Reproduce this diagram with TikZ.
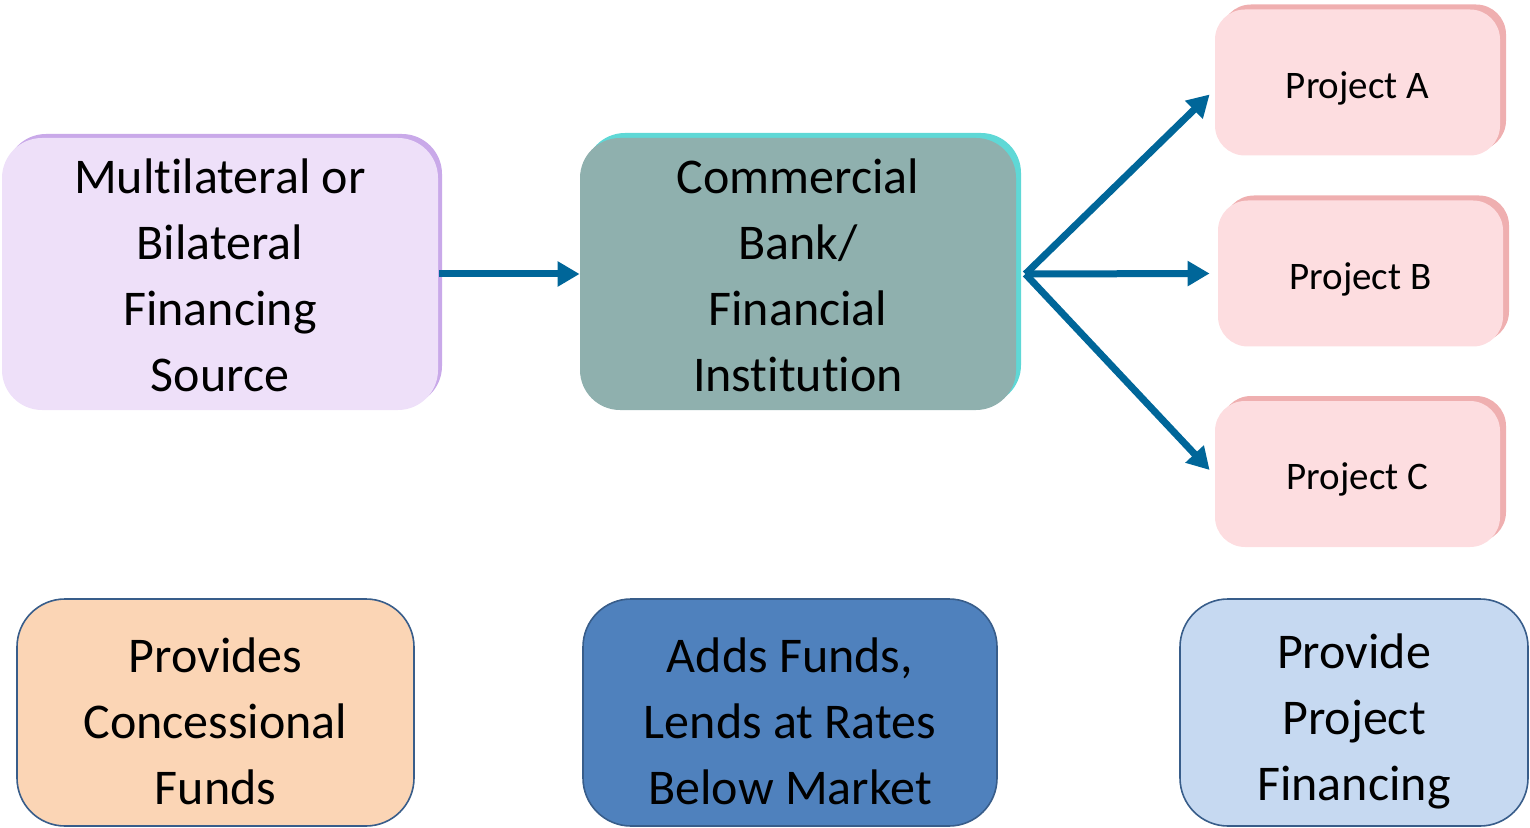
\documentclass[tikz,border=0pt]{standalone}
\usepackage{fontspec}
\setmainfont{Carlito}[Ligatures=NoCommon]
\usetikzlibrary{arrows.meta,shadows}
\definecolor{purplefill}{HTML}{EEE0F9}
\definecolor{purpleedge}{HTML}{C9A9E9}
\definecolor{tealfill}{HTML}{8FB0AE}
\definecolor{tealedge}{HTML}{5FD8D6}
\definecolor{pinkfill}{HTML}{FDDDE0}
\definecolor{pinkedge}{HTML}{EFAFB0}
\definecolor{orangefill}{HTML}{FBD5B5}
\definecolor{bluefill}{HTML}{4F81BD}
\definecolor{lightbluefill}{HTML}{C6D9F1}
\definecolor{boxborder}{HTML}{385D8A}
\definecolor{arrowblue}{HTML}{006699}
\tikzset{
  bigbox/.style={rounded corners=20pt, align=center, inner sep=0pt,
    font=\fontsize{25}{33}\selectfont, minimum width=218pt, minimum height=136pt},
  projbox/.style={rounded corners=15pt, align=center, inner sep=0pt,
    font=\fontsize{19.5}{24}\selectfont, minimum width=142.5pt, minimum height=73pt,
    fill=pinkfill, general shadow={shadow xshift=3pt, shadow yshift=2.5pt, fill=pinkedge}},
  lowbox/.style={rounded corners=24pt, align=center, inner sep=0pt,
    font=\fontsize{25}{33}\selectfont, minimum height=113.5pt,
    draw=boxborder, line width=0.8pt},
  flow/.style={draw=arrowblue, line width=3.5pt, -{Triangle[length=11pt,width=12pt]}}
}
\newcommand{\pushlow}{\rule{0pt}{26pt}}
\newcommand{\pushproj}{\rule{0pt}{19pt}}
\begin{document}
\begin{tikzpicture}[x=0.5pt,y=-0.5pt]
\useasboundingbox (0,0) rectangle (1530,828);
\node[bigbox, fill=purplefill, general shadow={shadow xshift=2pt, shadow yshift=2pt, fill=purpleedge}] (src) at (220,274)
  {\rule{0pt}{19pt}Multilateral or\\Bilateral\\Financing\\Source};
\node[bigbox, fill=tealfill, general shadow={shadow xshift=2.5pt, shadow yshift=2.5pt, fill=tealedge}] (bank) at (798,274)
  {\rule{0pt}{19pt}Commercial\\Bank/\\Financial\\Institution};
\node[projbox] (pa) at (1357.5,82.5) {\pushproj Project A};
\node[projbox] (pb) at (1360.5,273.5) {\pushproj Project B};
\node[projbox] (pc) at (1357.5,474) {\pushproj Project C};
\node[lowbox, fill=orangefill, minimum width=198.5pt] (l1) at (215.5,712.5) {\pushlow Provides\\Concessional\\Funds};
\node[lowbox, fill=bluefill, minimum width=207pt] (l2) at (790,712.5) {\pushlow Adds Funds,\\Lends at Rates\\Below Market};
\node[lowbox, fill=lightbluefill, minimum width=174pt] (l3) at (1354,712.5) {\pushlow Provide\\Project\\Financing};
\draw[flow] ([xshift=0.5pt]src.east) -- (bank.west);
\coordinate (hub) at ([xshift=4.5pt]bank.east);
\draw[flow] (hub) -- ([xshift=-2.5pt,yshift=-6pt]pa.west);
\draw[flow] (hub) -- ([xshift=-4pt]pb.west);
\draw[flow] (hub) -- ([xshift=-2.5pt,yshift=2pt]pc.west);
\end{tikzpicture}
\end{document}
